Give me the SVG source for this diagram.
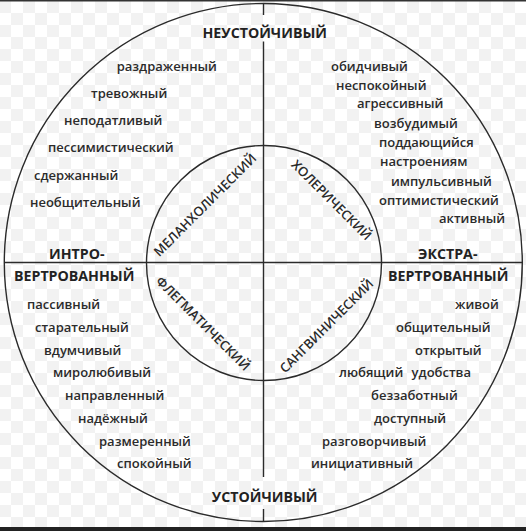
<svg xmlns="http://www.w3.org/2000/svg" width="526" height="531" viewBox="0 0 526 531">
<defs>
<pattern id="chk" x="-1" y="1" width="24" height="24" patternUnits="userSpaceOnUse">
<rect width="24" height="24" fill="#ffffff"/>
<rect x="0" y="0" width="12" height="12" fill="#f2f2f2"/>
<rect x="12" y="12" width="12" height="12" fill="#f2f2f2"/>
</pattern>
</defs>
<style>
text{font-family:"Open Sans","Liberation Sans",sans-serif;fill:#2b2b2b}
.w{font-size:13px;font-weight:600}
.h{font-size:14.2px;font-weight:700;fill:#222}
.t{font-size:13px;font-weight:600;text-anchor:middle}
.ln{stroke:#2b2b2b;stroke-width:1.4;fill:none}
</style>
<rect width="526" height="531" fill="url(#chk)"/>
<rect x="0" y="0" width="526" height="1.5" fill="#333"/>
<rect x="0" y="527" width="526" height="4" fill="#222"/>
<g id="connectors">
<circle class="ln" cx="263.3" cy="262.5" r="259"/>
<circle class="ln" cx="264" cy="263" r="117.5"/>
<line class="ln" x1="4" y1="262.5" x2="522.5" y2="262.5"/>
<line class="ln" x1="263.5" y1="3" x2="263.5" y2="15"/>
<line class="ln" x1="263.5" y1="41.5" x2="263.5" y2="477"/>
<line class="ln" x1="263.5" y1="509" x2="263.5" y2="522"/>
</g>
<g id="axis-labels">
<text class="h" x="264.7" y="37.5" text-anchor="middle">НЕУСТОЙЧИВЫЙ</text>
<text class="h" x="264.7" y="501.5" text-anchor="middle">УСТОЙЧИВЫЙ</text>
<text class="h" x="49" y="258.5">ИНТРО-</text>
<text class="h" x="14" y="280.5">ВЕРТРОВАННЫЙ</text>
<text class="h" x="418" y="258.5">ЭКСТРА-</text>
<text class="h" x="388" y="280.5">ВЕРТРОВАННЫЙ</text>
</g>
<g id="melancholic">
<text class="t" transform="translate(205,205) rotate(-45)" y="4.6">МЕЛАНХОЛИЧЕСКИЙ</text>
<text class="w" x="116.7" y="71">раздраженный</text>
<text class="w" x="91" y="98">тревожный</text>
<text class="w" x="64" y="125">неподатливый</text>
<text class="w" x="48" y="152">пессимистический</text>
<text class="w" x="34" y="180">сдержанный</text>
<text class="w" x="30" y="207">необщительный</text>
</g>
<g id="choleric">
<text class="t" transform="translate(331.5,200) rotate(45)" y="4.6">ХОЛЕРИЧЕСКИЙ</text>
<text class="w" x="331" y="71">обидчивый</text>
<text class="w" x="336" y="90">неспокойный</text>
<text class="w" x="357" y="108">агрессивный</text>
<text class="w" x="374" y="128">возбудимый</text>
<text class="w" x="379" y="147">поддающийся</text>
<text class="w" x="380" y="166">настроениям</text>
<text class="w" x="391" y="186">импульсивный</text>
<text class="w" x="379" y="205">оптимистический</text>
<text class="w" x="439" y="223">активный</text>
</g>
<g id="phlegmatic">
<text class="t" transform="translate(203,323.5) rotate(45)" y="4.6">ФЛЕГМАТИЧЕСКИЙ</text>
<text class="w" x="27" y="309">пассивный</text>
<text class="w" x="35" y="332">старательный</text>
<text class="w" x="44" y="355">вдумчивый</text>
<text class="w" x="53" y="377">миролюбивый</text>
<text class="w" x="65" y="400">направленный</text>
<text class="w" x="78" y="423">надёжный</text>
<text class="w" x="99" y="446">размеренный</text>
<text class="w" x="117" y="468">спокойный</text>
</g>
<g id="sanguine">
<text class="t" transform="translate(326.5,326) rotate(-45)" y="4.6">САНГВИНИЧЕСКИЙ</text>
<text class="w" x="455" y="309">живой</text>
<text class="w" x="396" y="332">общительный</text>
<text class="w" x="415" y="355">открытый</text>
<text class="w" x="339" y="377" word-spacing="5">любящий удобства</text>
<text class="w" x="371" y="400">беззаботный</text>
<text class="w" x="374" y="423">доступный</text>
<text class="w" x="322" y="446">разговорчивый</text>
<text class="w" x="311" y="468">инициативный</text>
</g>
</svg>
